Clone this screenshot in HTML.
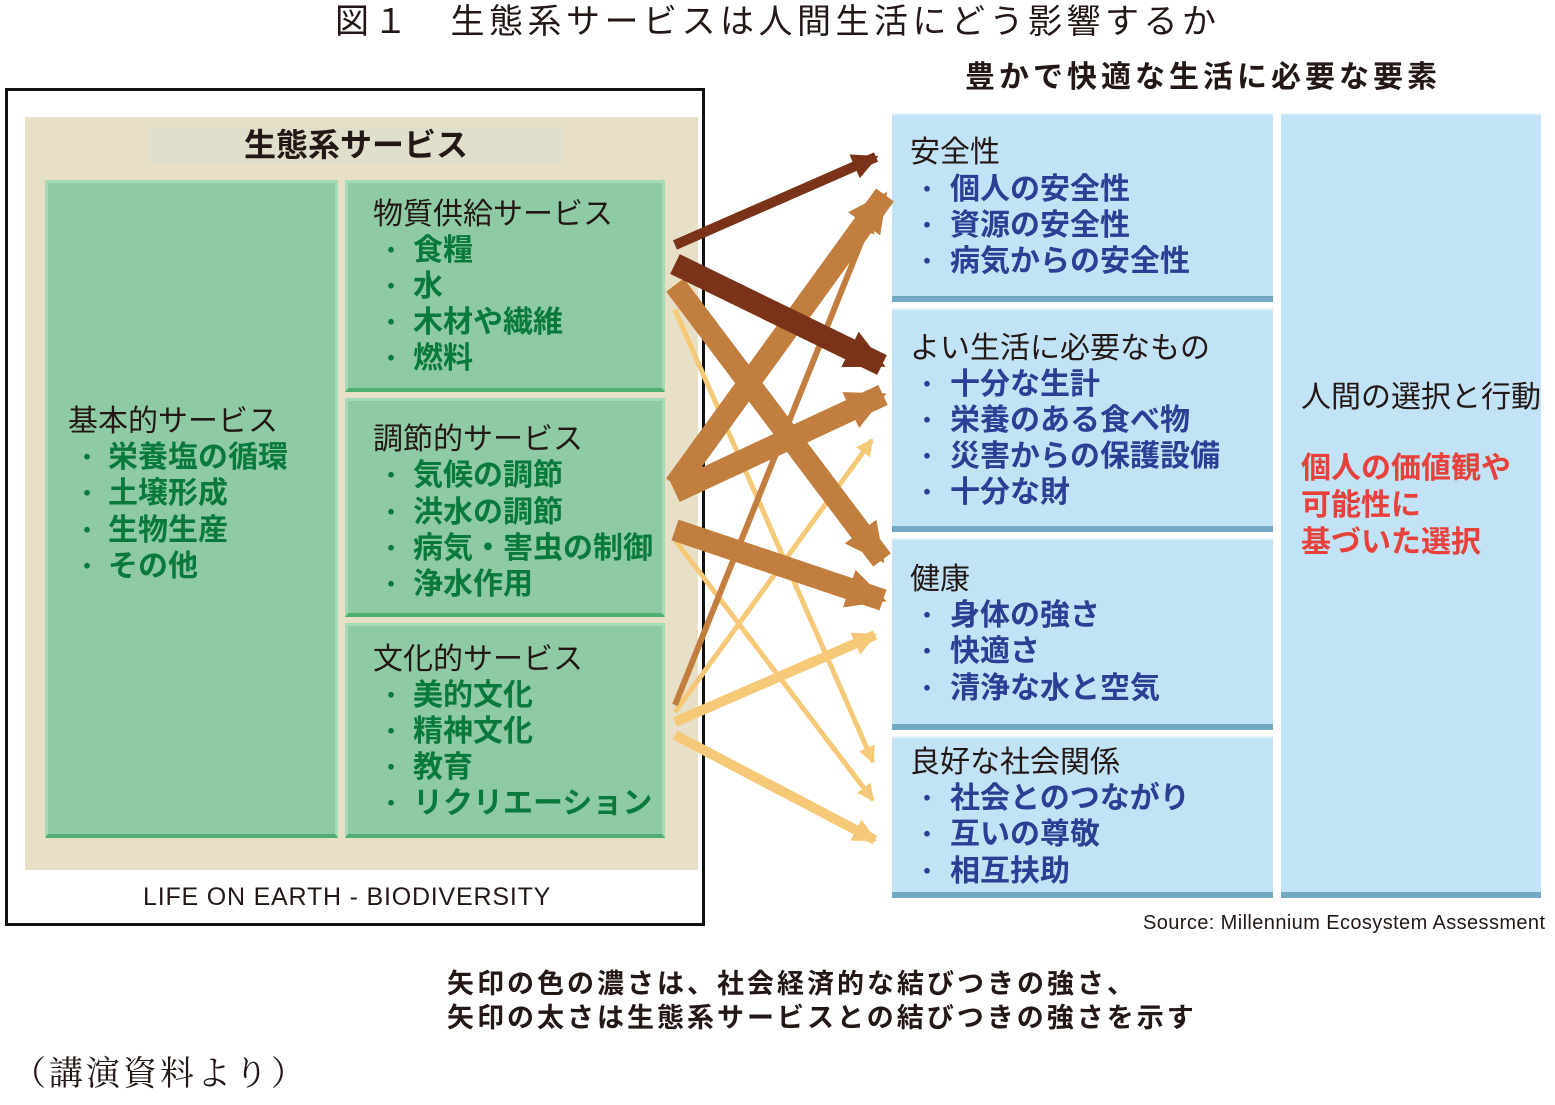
<!DOCTYPE html>
<html><head><meta charset="utf-8">
<style>
body{margin:0;width:1555px;height:1105px;background:#fff;position:relative;overflow:hidden;font-family:"Liberation Sans","Noto Sans CJK JP",sans-serif;}
.a{position:absolute;white-space:nowrap;}
.t{position:absolute;white-space:nowrap;font-size:30px;line-height:36px;height:36px;}
.k{color:#231815;}
.g{color:#0a7a3c;font-weight:bold;}
.b{color:#2b3f94;font-weight:bold;}
.r{color:#e8403a;font-weight:bold;}
.d{position:absolute;font-size:22px;line-height:36px;font-weight:bold;}
.gb{position:absolute;background:#8ecba5;border:3px solid #a6dab7;border-bottom:4px solid #4fae72;box-sizing:border-box;}
.bb{position:absolute;background:#c2e3f6;border-bottom:6px solid #73a9c4;border-top:2px solid #e4f3fb;box-sizing:border-box;}
</style></head><body>
<div class="a k" style="left:335px;top:0px;font-size:34px;line-height:44px;letter-spacing:4.5px;">図１　生態系サービスは人間生活にどう影響するか</div>
<div class="a k" style="left:965px;top:58px;font-size:30px;line-height:40px;font-weight:bold;letter-spacing:4px;">豊かで快適な生活に必要な要素</div>

<div class="a" style="left:5px;top:88px;width:700px;height:838px;border:3px solid #111;box-sizing:border-box;"></div>
<div class="a" style="left:25px;top:117px;width:673px;height:753px;background:#e7e0c6;"></div>
<div class="a" style="left:150px;top:127px;width:412px;height:36px;background:#dfdfcc;"></div>
<div class="a k" style="left:150px;width:412px;text-align:center;top:125px;font-size:32px;line-height:40px;font-weight:bold;">生態系サービス</div>

<div class="gb" style="left:45px;top:180px;width:293px;height:658px;"></div>
<div class="gb" style="left:345px;top:180px;width:320px;height:212px;"></div>
<div class="gb" style="left:345px;top:398px;width:320px;height:219px;"></div>
<div class="gb" style="left:345px;top:623px;width:320px;height:215px;"></div>

<div class="t k" style="left:68px;top:404px;">基本的サービス</div>
<div class="d g" style="left:76px;top:440px;">・</div><div class="t g" style="left:108px;top:440px;">栄養塩の循環</div>
<div class="d g" style="left:76px;top:476px;">・</div><div class="t g" style="left:108px;top:476px;">土壌形成</div>
<div class="d g" style="left:76px;top:513px;">・</div><div class="t g" style="left:108px;top:513px;">生物生産</div>
<div class="d g" style="left:76px;top:549px;">・</div><div class="t g" style="left:108px;top:549px;">その他</div>

<div class="t k" style="left:373px;top:197px;">物質供給サービス</div>
<div class="d g" style="left:380px;top:233px;">・</div><div class="t g" style="left:413px;top:233px;">食糧</div>
<div class="d g" style="left:380px;top:269px;">・</div><div class="t g" style="left:413px;top:269px;">水</div>
<div class="d g" style="left:380px;top:305px;">・</div><div class="t g" style="left:413px;top:305px;">木材や繊維</div>
<div class="d g" style="left:380px;top:341px;">・</div><div class="t g" style="left:413px;top:341px;">燃料</div>

<div class="t k" style="left:373px;top:422px;">調節的サービス</div>
<div class="d g" style="left:380px;top:458px;">・</div><div class="t g" style="left:413px;top:458px;">気候の調節</div>
<div class="d g" style="left:380px;top:495px;">・</div><div class="t g" style="left:413px;top:495px;">洪水の調節</div>
<div class="d g" style="left:380px;top:531px;">・</div><div class="t g" style="left:413px;top:531px;">病気・害虫の制御</div>
<div class="d g" style="left:380px;top:567px;">・</div><div class="t g" style="left:413px;top:567px;">浄水作用</div>

<div class="t k" style="left:373px;top:642px;">文化的サービス</div>
<div class="d g" style="left:380px;top:678px;">・</div><div class="t g" style="left:413px;top:678px;">美的文化</div>
<div class="d g" style="left:380px;top:714px;">・</div><div class="t g" style="left:413px;top:714px;">精神文化</div>
<div class="d g" style="left:380px;top:750px;">・</div><div class="t g" style="left:413px;top:750px;">教育</div>
<div class="d g" style="left:380px;top:786px;">・</div><div class="t g" style="left:413px;top:786px;">リクリエーション</div>

<div class="a k" style="left:143px;top:882px;font-size:25px;line-height:30px;letter-spacing:0.8px;">LIFE ON EARTH - BIODIVERSITY</div>

<div class="bb" style="left:892px;top:113px;width:381px;height:189px;"></div>
<div class="bb" style="left:892px;top:308px;width:381px;height:224px;"></div>
<div class="bb" style="left:892px;top:538px;width:381px;height:192px;"></div>
<div class="bb" style="left:892px;top:736px;width:381px;height:162px;"></div>
<div class="bb" style="left:1281px;top:113px;width:260px;height:785px;"></div>

<div class="t k" style="left:910px;top:135px;">安全性</div>
<div class="d b" style="left:916px;top:172px;">・</div><div class="t b" style="left:950px;top:172px;">個人の安全性</div>
<div class="d b" style="left:916px;top:208px;">・</div><div class="t b" style="left:950px;top:208px;">資源の安全性</div>
<div class="d b" style="left:916px;top:244px;">・</div><div class="t b" style="left:950px;top:244px;">病気からの安全性</div>

<div class="t k" style="left:910px;top:331px;">よい生活に必要なもの</div>
<div class="d b" style="left:916px;top:367px;">・</div><div class="t b" style="left:950px;top:367px;">十分な生計</div>
<div class="d b" style="left:916px;top:403px;">・</div><div class="t b" style="left:950px;top:403px;">栄養のある食べ物</div>
<div class="d b" style="left:916px;top:439px;">・</div><div class="t b" style="left:950px;top:439px;">災害からの保護設備</div>
<div class="d b" style="left:916px;top:475px;">・</div><div class="t b" style="left:950px;top:475px;">十分な財</div>

<div class="t k" style="left:910px;top:562px;">健康</div>
<div class="d b" style="left:916px;top:598px;">・</div><div class="t b" style="left:950px;top:598px;">身体の強さ</div>
<div class="d b" style="left:916px;top:634px;">・</div><div class="t b" style="left:950px;top:634px;">快適さ</div>
<div class="d b" style="left:916px;top:671px;">・</div><div class="t b" style="left:950px;top:671px;">清浄な水と空気</div>

<div class="t k" style="left:910px;top:745px;">良好な社会関係</div>
<div class="d b" style="left:916px;top:781px;">・</div><div class="t b" style="left:950px;top:781px;">社会とのつながり</div>
<div class="d b" style="left:916px;top:817px;">・</div><div class="t b" style="left:950px;top:817px;">互いの尊敬</div>
<div class="d b" style="left:916px;top:854px;">・</div><div class="t b" style="left:950px;top:854px;">相互扶助</div>

<div class="t k" style="left:1301px;top:380px;">人間の選択と行動</div>
<div class="t r" style="left:1301px;top:451px;">個人の価値観や</div>
<div class="t r" style="left:1301px;top:488px;">可能性に</div>
<div class="t r" style="left:1301px;top:525px;">基づいた選択</div>

<div class="a k" style="left:1143px;top:910px;font-size:20px;line-height:26px;letter-spacing:0.4px;">Source: Millennium Ecosystem Assessment</div>

<div class="a k" style="left:447px;top:967px;font-size:27px;line-height:34px;font-weight:bold;letter-spacing:3px;">矢印の色の濃さは、社会経済的な結びつきの強さ、<br>矢印の太さは生態系サービスとの結びつきの強さを示す</div>
<div class="a k" style="left:12px;top:1053px;font-size:34px;line-height:44px;letter-spacing:3px;font-family:'Liberation Serif','Noto Serif CJK SC',serif;">（講演資料より）</div>

<svg class="a" style="left:0;top:0" width="1555" height="1105">
<defs>
<marker id="hd" viewBox="0 0 10 10" refX="9" refY="5" markerUnits="strokeWidth" markerWidth="1.8" markerHeight="1.8" orient="auto"><path d="M0,0L10,5L0,10z" fill="#7a3219"/></marker>
<marker id="hd2" viewBox="0 0 10 10" refX="9" refY="5" markerUnits="strokeWidth" markerWidth="2.6" markerHeight="2.6" orient="auto"><path d="M0,0L10,5L0,10z" fill="#7a3219"/></marker>
<marker id="hm" viewBox="0 0 10 10" refX="9" refY="5" markerUnits="strokeWidth" markerWidth="1.8" markerHeight="1.8" orient="auto"><path d="M0,0L10,5L0,10z" fill="#c27e3e"/></marker>
<marker id="hm2" viewBox="0 0 10 10" refX="9" refY="5" markerUnits="strokeWidth" markerWidth="3.2" markerHeight="3.2" orient="auto"><path d="M0,0L10,5L0,10z" fill="#c27e3e"/></marker>
<marker id="hl" viewBox="0 0 10 10" refX="9" refY="5" markerUnits="strokeWidth" markerWidth="3.4" markerHeight="3.4" orient="auto"><path d="M0,0L10,5L0,10z" fill="#f6c978"/></marker>
<marker id="hl2" viewBox="0 0 10 10" refX="9" refY="5" markerUnits="strokeWidth" markerWidth="2.4" markerHeight="2.4" orient="auto"><path d="M0,0L10,5L0,10z" fill="#f6c978"/></marker>
</defs>
<g fill="none">
<line x1="675" y1="310" x2="873" y2="762" stroke="#f6c978" stroke-width="5" marker-end="url(#hl)"/>
<line x1="675" y1="540" x2="873" y2="800" stroke="#f6c978" stroke-width="5" marker-end="url(#hl)"/>
<line x1="675" y1="712" x2="872" y2="440" stroke="#f6c978" stroke-width="5" marker-end="url(#hl)"/>
<line x1="675" y1="722" x2="875" y2="635" stroke="#f6c978" stroke-width="10" marker-end="url(#hl2)"/>
<line x1="675" y1="735" x2="875" y2="840" stroke="#f6c978" stroke-width="10" marker-end="url(#hl2)"/>
<line x1="675" y1="705" x2="872" y2="215" stroke="#c27e3e" stroke-width="6" marker-end="url(#hm2)"/>
<line x1="675" y1="285" x2="882" y2="560" stroke="#c27e3e" stroke-width="22" marker-end="url(#hm)"/>
<line x1="675" y1="485" x2="885" y2="195" stroke="#c27e3e" stroke-width="22" marker-end="url(#hm)"/>
<line x1="675" y1="492" x2="883" y2="395" stroke="#c27e3e" stroke-width="22" marker-end="url(#hm)"/>
<line x1="675" y1="530" x2="883" y2="600" stroke="#c27e3e" stroke-width="22" marker-end="url(#hm)"/>
<line x1="675" y1="245" x2="876" y2="157" stroke="#7a3219" stroke-width="10" marker-end="url(#hd2)"/>
<line x1="675" y1="264" x2="882" y2="365" stroke="#7a3219" stroke-width="22" marker-end="url(#hd)"/>
</g>
</svg>
</body></html>
